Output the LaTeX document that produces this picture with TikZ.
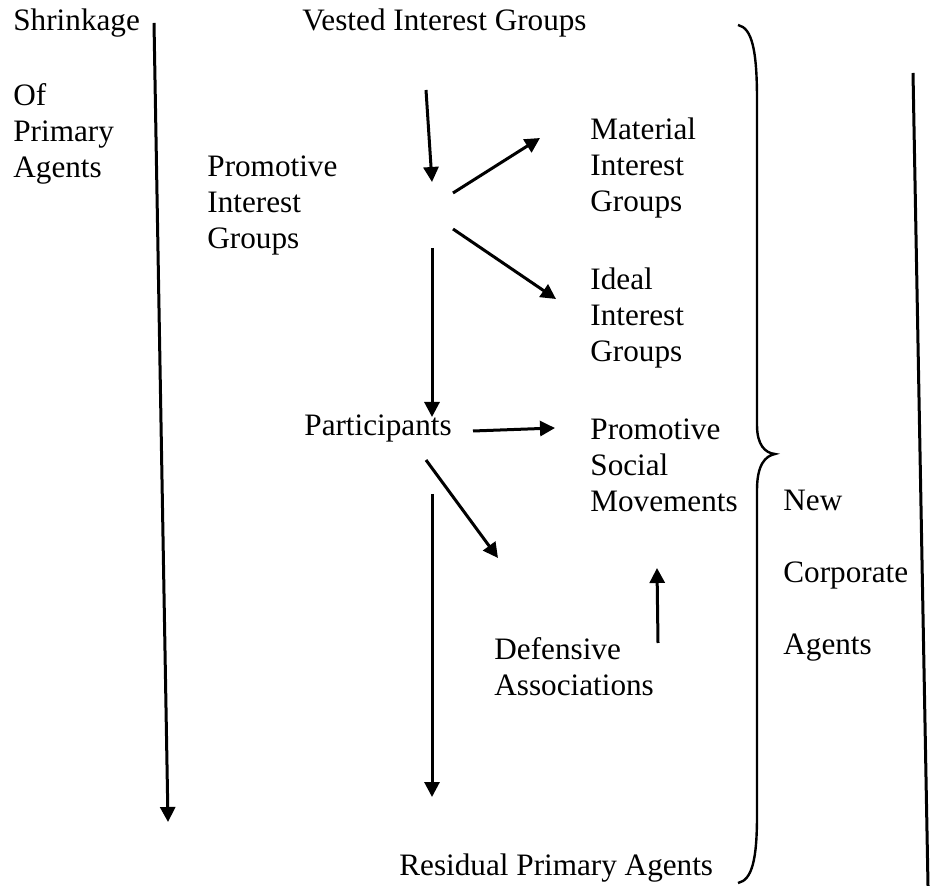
\documentclass[tikz,border=0pt]{standalone}
\usepackage{fontspec}
\setmainfont{Liberation Serif}
\usetikzlibrary{arrows.meta}
\tikzset{
  lbl/.style={anchor=west,inner sep=0pt,align=left,font=\fontsize{15.6pt}{18pt}\selectfont},
  arr/.style={line width=1.5pt,-{Triangle[length=7.5pt,width=7.5pt]}}
}
\begin{document}
\begin{tikzpicture}[x=0.5pt,y=-0.5pt]
	\useasboundingbox (0,0) rectangle (936,886);
	% labels
	\node[lbl] (shrink) at (13,23) {Shrinkage};
	\node[lbl] (ofprim) at (13,134) {Of\\Primary\\Agents};
	\node[lbl] (vested) at (302,23) {Vested Interest Groups};
	\node[lbl] (promo) at (207,205) {Promotive\\Interest\\Groups};
	\node[lbl] (material) at (590,168) {Material\\Interest\\Groups};
	\node[lbl] (ideal) at (590,318) {Ideal\\Interest\\Groups};
	\node[lbl] (partic) at (304,428) {Participants};
	\node[lbl] (psm) at (590,465) {Promotive\\Social\\Movements};
	\node[lbl] (newca) at (783,576) {New\\[18pt]Corporate\\[18pt]Agents};
	\node[lbl] (defens) at (494,667) {Defensive\\Associations};
	\node[lbl] (residual) at (399,868) {Residual Primary Agents};
	% arrow ends
	\path (154,23)coordinate(la)(168,822)coordinate(lb)
		(426,90)coordinate(va)(432,182)coordinate(vb)
		(453,193)coordinate(ma)(540,138)coordinate(mb)
		(453,229)coordinate(ia)(556,299)coordinate(ib)
		(432,248)coordinate(pa)(432,417)coordinate(pb)
		(473,431)coordinate(sa)(555,428)coordinate(sb)
		(426,460)coordinate(da)(498,558)coordinate(db)
		(432,494)coordinate(ra)(432,797)coordinate(rb)
		(658,643)coordinate(ua)(657,568)coordinate(ub)
		(913,73)coordinate(ca)(928,886)coordinate(cb);
	\draw[arr] (la)--(lb);
	\draw[arr] (va)--(vb);
	\draw[arr] (ma)--(mb);
	\draw[arr] (ia)--(ib);
	\draw[arr] (pa)--(pb);
	\draw[arr] (sa)--(sb);
	\draw[arr] (da)--(db);
	\draw[arr] (ra)--(rb);
	\draw[arr] (ua)--(ub);
	\draw[line width=1.5pt] (ca)--(cb);
	% brace
	\draw[line width=1.2pt] (738,25) .. controls (752,28) and (757,50) .. (757,100)
		-- (757,425) .. controls (757,445) and (765,453) .. (775,454)
		.. controls (765,456) and (757,465) .. (757,490)
		-- (757,815) .. controls (757,860) and (752,880) .. (738,883);
\end{tikzpicture}
\end{document}
